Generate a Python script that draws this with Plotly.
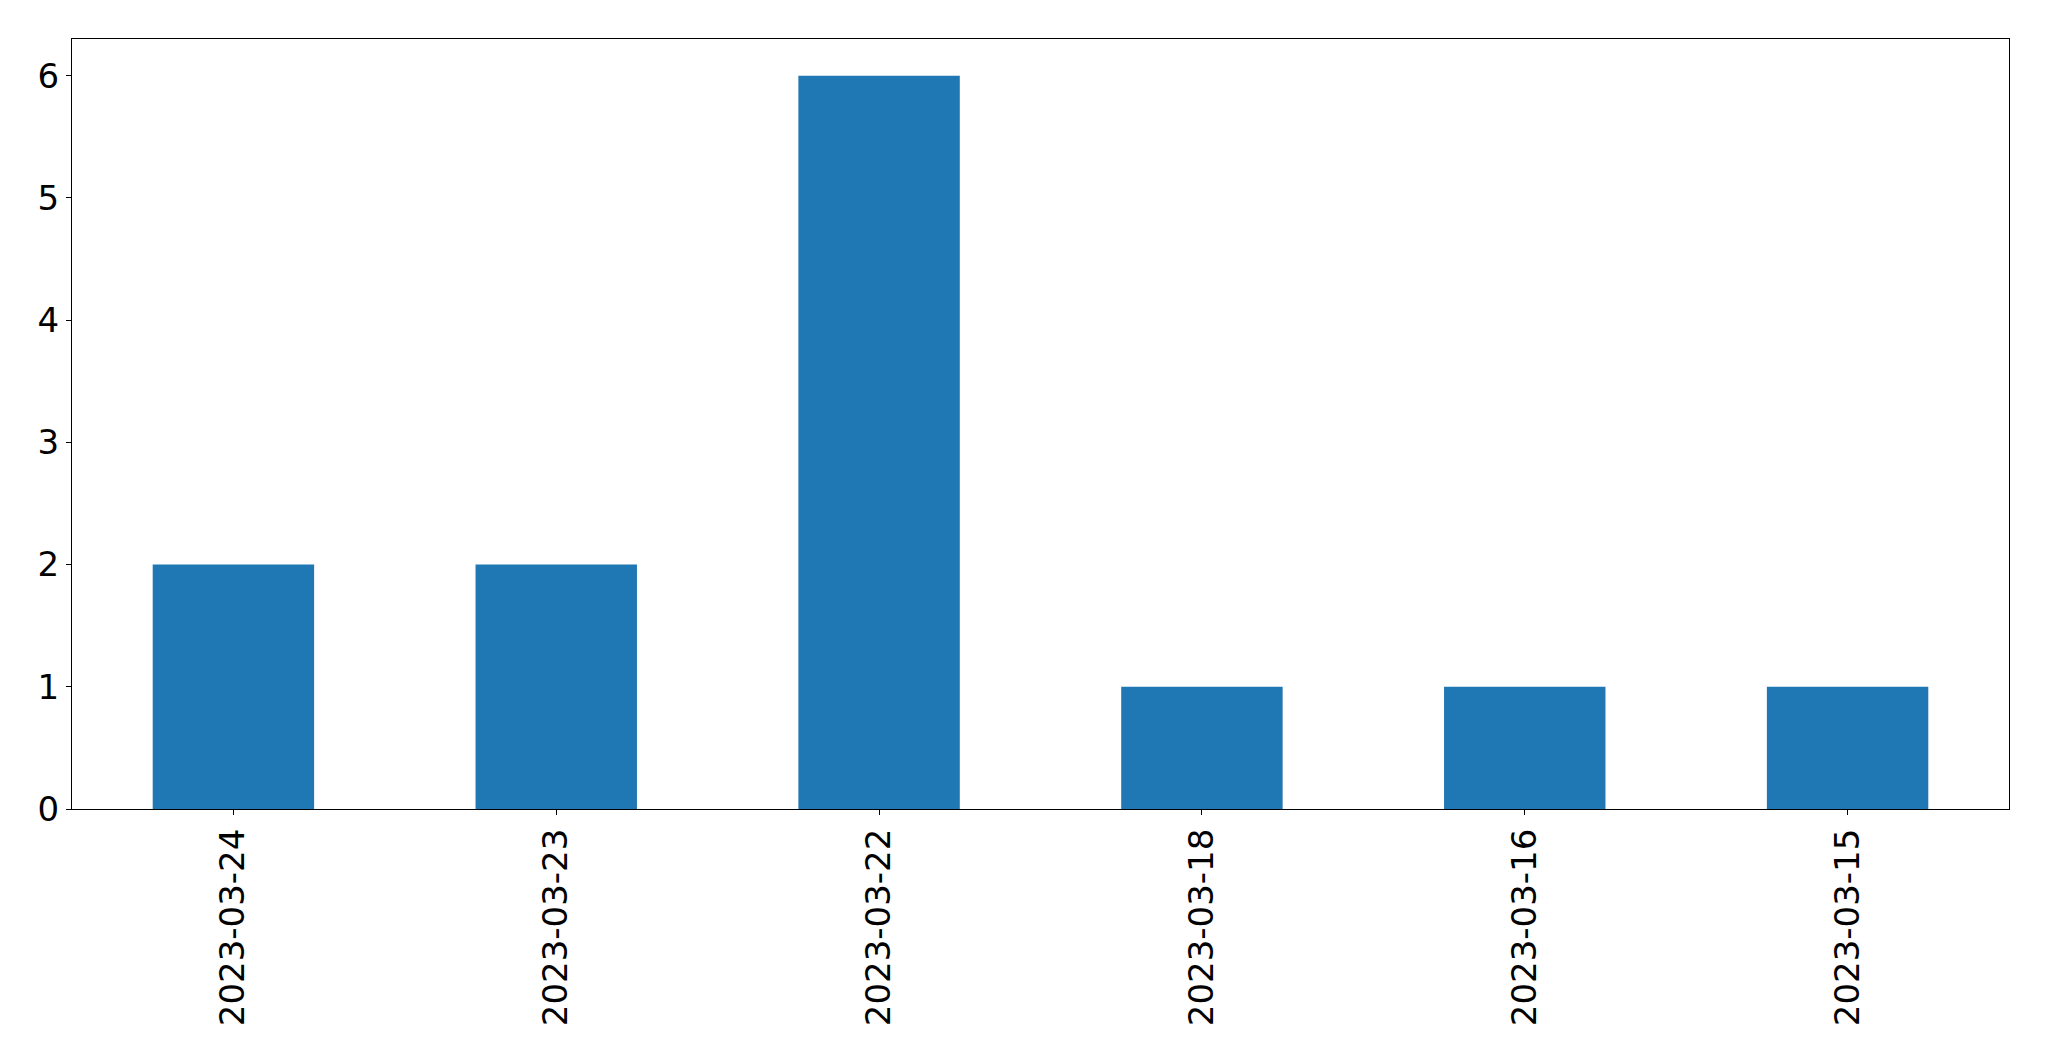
import plotly.graph_objects as go

dates = ["2023-03-24", "2023-03-23", "2023-03-22", "2023-03-18", "2023-03-16", "2023-03-15"]
counts = [2, 2, 6, 1, 1, 1]
y_ticks = [0, 1, 2, 3, 4, 5, 6]

fig = go.Figure(
    go.Bar(x=dates, y=counts, marker=dict(color="#1f77b4", line=dict(width=0)), width=0.5)
)

fig.update_layout(
    width=2033,
    height=1045,
    margin=dict(l=64, r=32, t=31, b=244),
    plot_bgcolor="white",
    paper_bgcolor="white",
    font=dict(family="DejaVu Sans", size=34, color="black"),
    showlegend=False,
)
fig.update_xaxes(
    type="category",
    range=[-0.5, 5.5],
    tickangle=-90,
    ticks="outside",
    ticklen=5,
    tickwidth=1.1,
    tickcolor="black",
    showline=True,
    linecolor="black",
    linewidth=1.1,
    mirror=True,
    showgrid=False,
    zeroline=False,
    ticklabelstandoff=0,
)
fig.update_yaxes(
    range=[0, 6.3],
    tickvals=y_ticks,
    ticks="outside",
    ticklen=5,
    tickwidth=1.1,
    tickcolor="black",
    showline=True,
    linecolor="black",
    linewidth=1.1,
    mirror=True,
    showgrid=False,
    zeroline=False,
)

fig.write_html("out.html")
